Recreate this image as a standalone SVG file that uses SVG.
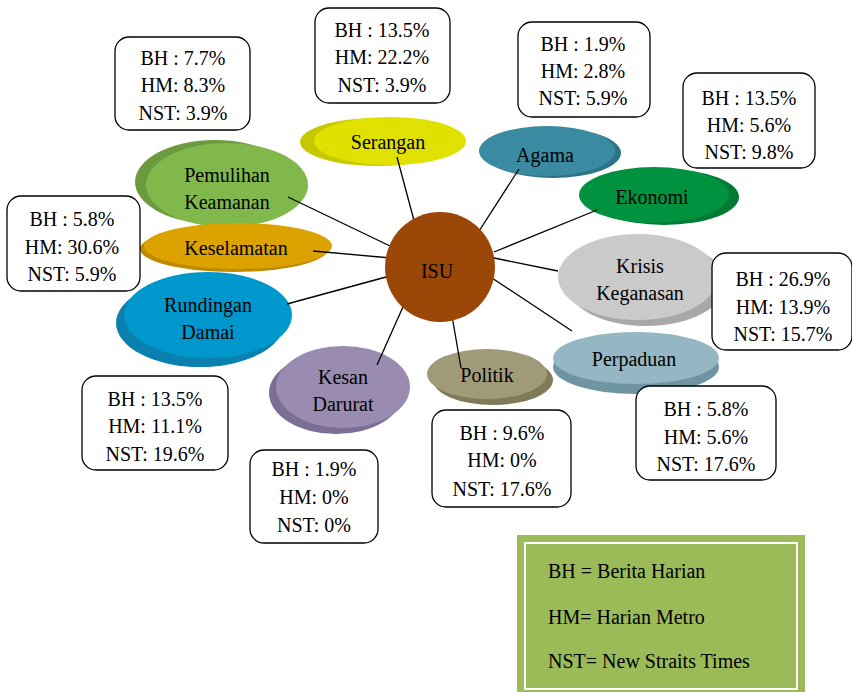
<svg xmlns="http://www.w3.org/2000/svg" width="852" height="692" viewBox="0 0 852 692">
<style>
text{font-family:"Liberation Serif","Times New Roman",serif;font-size:20px;fill:#000;text-anchor:middle}
.box{fill:#fff;stroke:#000;stroke-width:1.3}
.con line{stroke:#000;stroke-width:1.3}
.lg{text-anchor:start}
</style>
<rect width="852" height="692" fill="#fff"/>
<g id="n-serangan"><ellipse cx="378" cy="142" rx="78" ry="24" fill="#C8C800"/><ellipse cx="390" cy="141" rx="76" ry="24" fill="#E1E100"/><text x="388" y="149">Serangan</text></g>
<g id="n-pemulihan"><ellipse cx="215" cy="182" rx="80" ry="42" fill="#6C9A3E"/><ellipse cx="227" cy="185" rx="81" ry="42" fill="#80B84C"/><text x="227" y="182">Pemulihan</text><text x="227" y="209">Keamanan</text></g>
<g id="n-keselamatan"><ellipse cx="234" cy="249" rx="94" ry="23" fill="#C08A00"/><ellipse cx="238" cy="246" rx="94" ry="23" fill="#DCA300"/><text x="236" y="255">Keselamatan</text></g>
<g id="n-rundingan"><ellipse cx="200" cy="323" rx="84" ry="44" fill="#0A80AE"/><ellipse cx="208" cy="315" rx="84" ry="43" fill="#0097CC"/><text x="208" y="312">Rundingan</text><text x="208" y="339">Damai</text></g>
<g id="n-kesan"><ellipse cx="336" cy="393" rx="67" ry="41" fill="#7D6E96"/><ellipse cx="343" cy="387" rx="67" ry="41" fill="#9A8BB0"/><text x="343" y="384">Kesan</text><text x="343" y="411">Darurat</text></g>
<g id="n-politik"><ellipse cx="493" cy="380" rx="60" ry="25" fill="#7F7A58"/><ellipse cx="487" cy="374" rx="60" ry="25" fill="#A09A78"/><text x="487" y="382">Politik</text></g>
<g id="n-perpaduan"><ellipse cx="636" cy="367" rx="83" ry="27" fill="#6F95A3"/><ellipse cx="636" cy="358" rx="83" ry="26" fill="#95B7C3"/><text x="634" y="366">Perpaduan</text></g>
<g id="n-krisis"><ellipse cx="646" cy="283" rx="80" ry="43" fill="#A8A8A8"/><ellipse cx="638" cy="277" rx="80" ry="43" fill="#CACACA"/><text x="640" y="273">Krisis</text><text x="640" y="300">Keganasan</text></g>
<g id="n-ekonomi"><ellipse cx="664" cy="197" rx="75" ry="28" fill="#007A34"/><ellipse cx="654" cy="195" rx="75" ry="28" fill="#00923F"/><text x="652" y="204">Ekonomi</text></g>
<g id="n-agama"><ellipse cx="553" cy="153" rx="68" ry="25" fill="#2E7488"/><ellipse cx="547" cy="151" rx="68" ry="25" fill="#3A8BA2"/><text x="545" y="162">Agama</text></g>
<g id="connectors" class="con">
<line x1="397" y1="157" x2="416" y2="228"/>
<line x1="288" y1="197" x2="390" y2="246"/>
<line x1="313" y1="251" x2="391" y2="258"/>
<line x1="287" y1="304" x2="397" y2="274"/>
<line x1="377" y1="365" x2="415" y2="280"/>
<line x1="447" y1="287" x2="461" y2="368"/>
<line x1="519" y1="169" x2="472" y2="242"/>
<line x1="597" y1="210" x2="494" y2="252"/>
<line x1="494" y1="258" x2="558" y2="271"/>
<line x1="486" y1="274" x2="572" y2="331"/>
</g>
<g id="n-isu"><circle cx="440" cy="267" r="55" fill="#9A4707"/><text x="437" y="278">ISU</text></g>
<g id="b-pemulihan"><rect class="box" x="115" y="37" width="135" height="93" rx="14"/><text x="183" y="65">BH : 7.7%</text><text x="183" y="92">HM: 8.3%</text><text x="183" y="120">NST: 3.9%</text></g>
<g id="b-serangan"><rect class="box" x="315" y="8" width="135" height="95" rx="14"/><text x="382" y="37">BH : 13.5%</text><text x="382" y="64">HM: 22.2%</text><text x="382" y="92">NST: 3.9%</text></g>
<g id="b-agama"><rect class="box" x="518" y="22" width="132" height="95" rx="14"/><text x="583" y="51">BH : 1.9%</text><text x="583" y="78">HM: 2.8%</text><text x="583" y="105">NST: 5.9%</text></g>
<g id="b-ekonomi"><rect class="box" x="683" y="73" width="132" height="95" rx="14"/><text x="749" y="105">BH : 13.5%</text><text x="749" y="132">HM: 5.6%</text><text x="749" y="159">NST: 9.8%</text></g>
<g id="b-keselamatan"><rect class="box" x="7" y="196" width="133" height="95" rx="14"/><text x="72" y="226">BH : 5.8%</text><text x="72" y="254">HM: 30.6%</text><text x="72" y="281">NST: 5.9%</text></g>
<g id="b-krisis"><rect class="box" x="712" y="253" width="140" height="97" rx="14"/><text x="783" y="286">BH : 26.9%</text><text x="783" y="314">HM: 13.9%</text><text x="783" y="341">NST: 15.7%</text></g>
<g id="b-rundingan"><rect class="box" x="82" y="376" width="146" height="94" rx="14"/><text x="155" y="406">BH : 13.5%</text><text x="155" y="433">HM: 11.1%</text><text x="155" y="461">NST: 19.6%</text></g>
<g id="b-kesan"><rect class="box" x="250" y="450" width="128" height="93" rx="14"/><text x="314" y="476">BH : 1.9%</text><text x="314" y="504">HM: 0%</text><text x="314" y="532">NST: 0%</text></g>
<g id="b-politik"><rect class="box" x="432" y="410" width="139" height="97" rx="14"/><text x="502" y="440">BH : 9.6%</text><text x="502" y="467">HM: 0%</text><text x="502" y="496">NST: 17.6%</text></g>
<g id="b-perpaduan"><rect class="box" x="636" y="386" width="140" height="94" rx="14"/><text x="706" y="416">BH : 5.8%</text><text x="706" y="444">HM: 5.6%</text><text x="706" y="471">NST: 17.6%</text></g>
<g id="legend"><rect x="517" y="535" width="288" height="157" fill="#9BBB59"/><rect x="525" y="543" width="272" height="146" fill="none" stroke="#fff" stroke-width="2"/><text class="lg" x="548" y="578">BH = Berita Harian</text><text class="lg" x="548" y="624">HM= Harian Metro</text><text class="lg" x="548" y="668">NST= New Straits Times</text></g>
</svg>
